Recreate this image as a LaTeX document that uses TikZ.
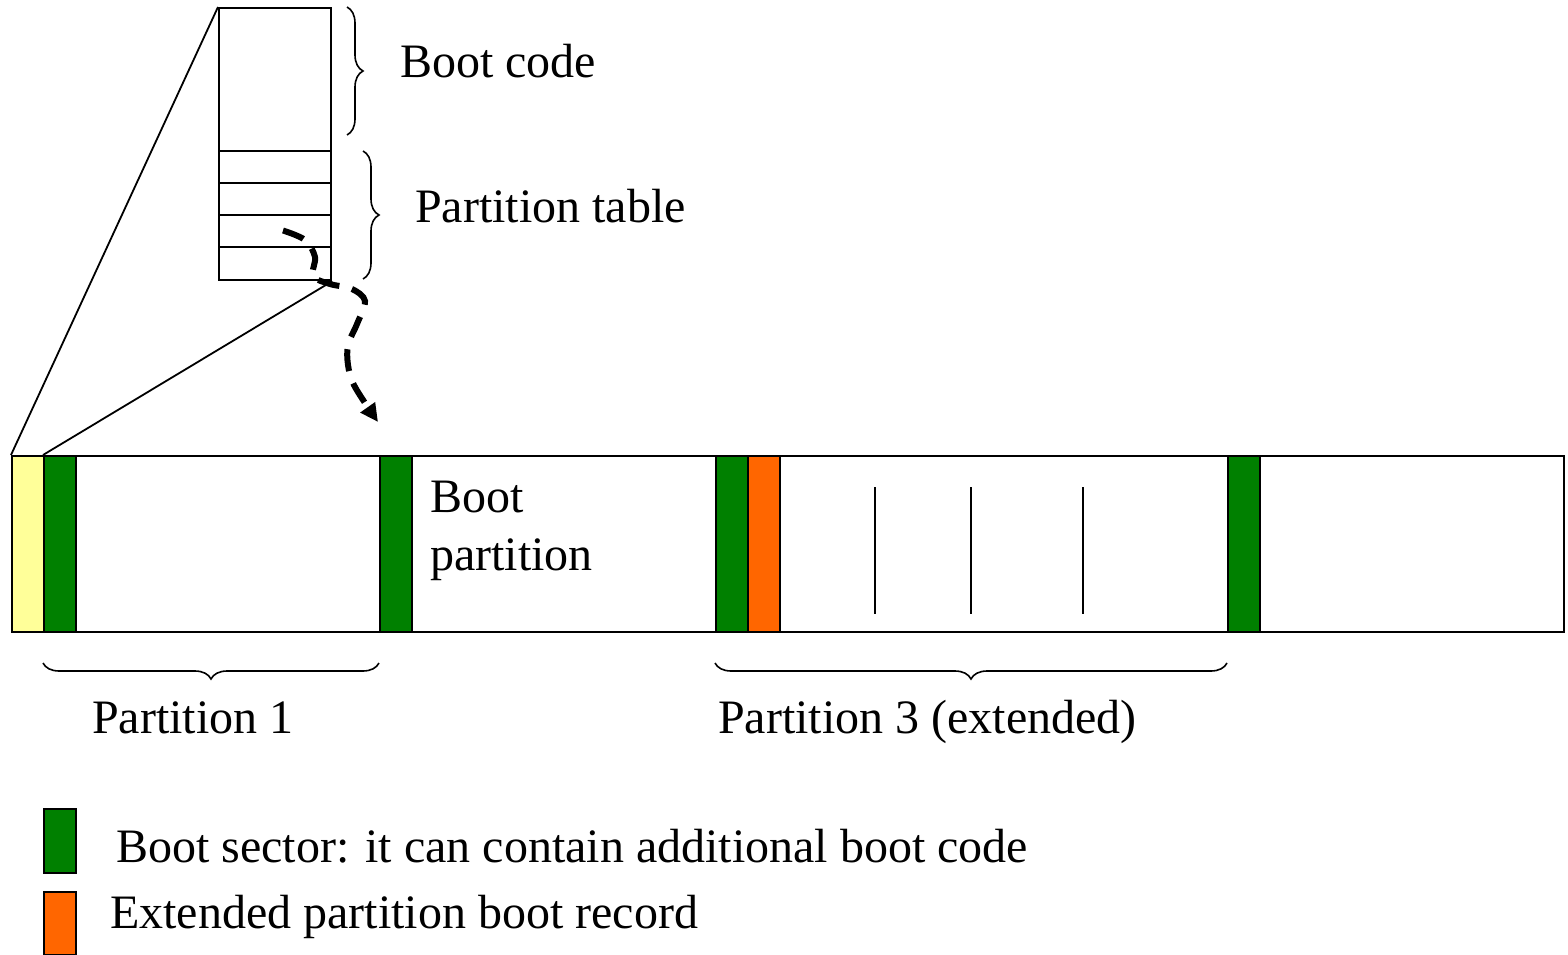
\documentclass[tikz,border=0pt]{standalone}
\usepackage{fontspec}
\setmainfont{Liberation Serif}
\usetikzlibrary{arrows.meta,decorations.pathreplacing}
\definecolor{mbryellow}{RGB}{255,255,153}
\definecolor{bootgreen}{RGB}{0,128,0}
\definecolor{ebrorange}{RGB}{255,102,0}

\tikzset{
  outline/.style={line width=2.2pt},
  thinline/.style={line width=1.8pt},
  sector/.style={draw, line width=2.2pt, inner sep=0pt, minimum width=32pt,
                 minimum height=176pt, anchor=north west},
  swatch/.style={draw, line width=2.2pt, inner sep=0pt, minimum width=32pt,
                 minimum height=63pt, anchor=north west},
  txt/.style={anchor=base west, inner sep=0pt, font=\fontsize{48}{57.6}\selectfont},
  bracket/.style={decorate, decoration={brace, amplitude=16pt}, line width=1.6pt},
  jump/.style={line width=6pt, dash pattern=on 22pt off 13pt,
               -{Triangle[length=18pt,width=17pt]}}
}

\begin{document}
\begin{tikzpicture}[x=1pt,y=-1pt]
\useasboundingbox (0,0) rectangle (1568,955);

% disk as a whole
\node[draw, outline, fill=white, inner sep=0pt, minimum width=1552pt,
      minimum height=176pt, anchor=north west] (disk) at (11,455) {};

% sectors
\node[sector, fill=mbryellow] (mbrsec) at (11,455) {};
\node[sector, fill=bootgreen] (bs1) at (43,455) {};
\node[sector, fill=bootgreen] (bs2) at (379,455) {};
\node[sector, fill=bootgreen] (bs3) at (715,455) {};
\node[sector, fill=ebrorange] (ebr) at (747,455) {};
\node[sector, fill=bootgreen] (bs4) at (1227,455) {};

% logical partitions inside the extended one
\draw[thinline] (875,487) -- (875,614);
\draw[thinline] (971,487) -- (971,614);
\draw[thinline] (1083,487) -- (1083,614);

% master boot record, enlarged
\node[draw, outline, inner sep=0pt, minimum width=112pt, minimum height=272pt,
      anchor=north west] (mbr) at (218,7) {};
\draw[outline] (218,151) -- (330,151);
\draw[outline] (218,183) -- (330,183);
\draw[outline] (218,215) -- (330,215);
\draw[outline] (218,247) -- (330,247);

% zoom lines
\draw[thinline] (mbr.north west) -- (mbrsec.north west);
\draw[thinline] (mbr.south east) -- (bs1.north west);

% braces and labels
\draw[bracket] (347,7) -- (347,135);
\draw[bracket] (363,151) -- (363,279);
\node[txt] (bootcode) at (400,78) {Boot code};
\node[txt] (ptable) at (415,222) {Partition table};

\node[txt] (bootp1) at (430,512) {Boot};
\node[txt] (bootp2) at (430,570) {partition};

\draw[bracket] (bs2.north west |- 0,663) -- (bs1.north west |- 0,663);
\draw[bracket] (bs4.north west |- 0,663) -- (bs3.north west |- 0,663);
\node[txt] (p1) at (92,733) {Partition 1};
\node[txt] (p3) at (718,733) {Partition 3 (extended)};

% pointer from the partition table entry to the boot partition
\draw[jump] plot[smooth, tension=0.55] coordinates {
  (283,230.5) (305,240) (315,257) (313,276) (330,284) (352,289)
  (365,301) (357,324) (348,345) (348,365) (353,383) (365,403) (378,422)};

% legend
\node[swatch, fill=bootgreen, minimum height=64pt] (lg1) at (43,808) {};
\node[txt] (lt1) at (116,862) {Boot sector: it can contain additional boot code};
\node[swatch, fill=ebrorange] (lg2) at (43,891) {};
\node[txt] (lt2) at (110,928) {Extended partition boot record};
\end{tikzpicture}
\end{document}
